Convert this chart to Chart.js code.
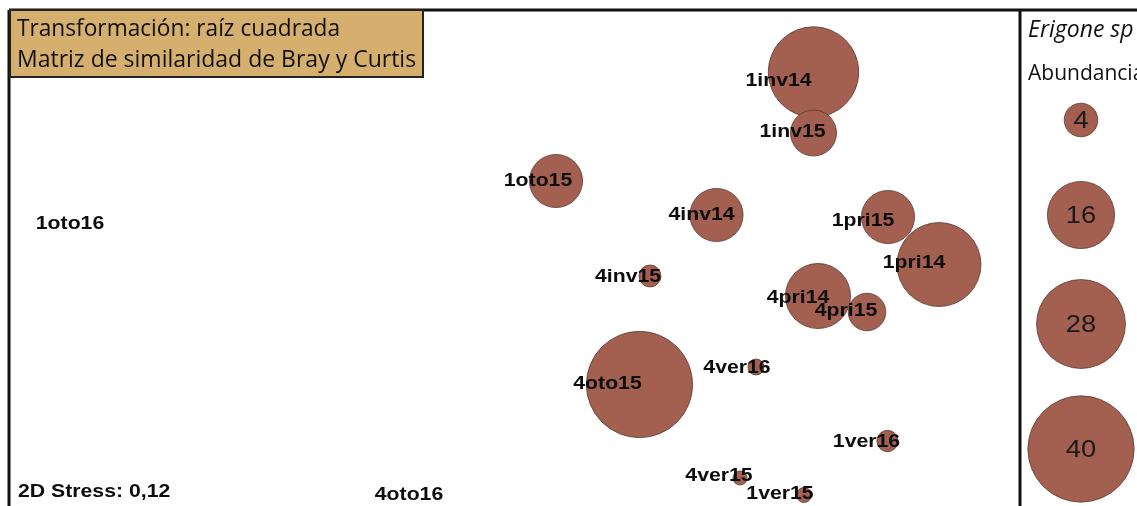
<!DOCTYPE html>
<html>
<head>
<meta charset="utf-8">
<script src="https://cdn.jsdelivr.net/npm/chart.js@4.4.1/dist/chart.umd.min.js"></script>
<style>
  html, body { margin: 0; padding: 0; background: #ffffff; overflow: hidden; }
  #wrap { width: 1137px; height: 506px; }
</style>
</head>
<body>
<div id="wrap"><canvas id="c" width="1137" height="506"></canvas></div>
<script>
// ---- data (nMDS coordinates and abundance of Erigone sp) ----
const samples   = ['1inv14','1inv15','1oto15','4inv14','1pri15','1pri14','4inv15','4pri14','4pri15','4oto15','4ver16','1ver16','4ver15','1ver15','1oto16','4oto16'];
const mdsX      = [1.194, 1.194, 0.164, 0.806, 1.492, 1.696, 0.540, 1.212, 1.408, 0.498, 0.964, 1.490, 0.900, 1.156, -1.780, -0.424];
const mdsY      = [0.744, 0.500, 0.308, 0.172, 0.164, -0.026, -0.072, -0.152, -0.216, -0.506, -0.436, -0.732, -0.880, -0.948, 0.140, -0.944];
const abundance = [29, 7.5, 10, 10, 10, 25, 1.7, 15, 5, 40, 0.9, 1.6, 0.7, 0.8, 0, 0];
const legendValues = [4, 16, 28, 40];
const titleLines = ['Transformación: raíz cuadrada', 'Matriz de similaridad de Bray y Curtis'];
const stressText = '2D Stress: 0,12';
const legendTitle = 'Erigone sp';
const legendSub = 'Abundancia';

// ---- styling ----
const K = 8.4; // bubble radius scale (px per sqrt(abundance))
const FILL = '#A35F4F';
const EDGE = '#5b3b33';
// label offsets (px) relative to bubble centre, for the label's centre
const labelDX = [-35, -21, -18, -15, -25, -25, -22, -20, -21, -32, -19, -21, -21, -24, 0, 0];
const labelDY = [9, -1, 0, 0, 4, -1, 1, 2, -1, 0, 1, 1, -2, -1, 1, 1];

const radiusOf = v => K * Math.sqrt(v);

const points = samples.map((s, i) => ({ x: mdsX[i], y: mdsY[i], r: radiusOf(abundance[i]) }));

function stretchedText(ctx, text, x, y, font, sx, align) {
  ctx.save();
  ctx.font = font;
  ctx.textAlign = align || 'center';
  ctx.textBaseline = 'middle';
  ctx.translate(x, y);
  ctx.scale(sx, 1);
  ctx.fillText(text, 0, 0);
  ctx.restore();
}

const decor = {
  id: 'decor',
  afterDatasetsDraw(chart) {
    const ctx = chart.ctx;
    const meta = chart.getDatasetMeta(0);
    ctx.fillStyle = '#0d0d0d';
    meta.data.forEach((el, i) => {
      stretchedText(ctx, samples[i], el.x + labelDX[i], el.y + labelDY[i], "bold 18px 'Liberation Sans', Arial, sans-serif", 1.18, 'center');
    });
  },
  afterDraw(chart) {
    const ctx = chart.ctx;
    const a = chart.chartArea;
    // stress text
    ctx.fillStyle = '#0d0d0d';
    stretchedText(ctx, stressText, 18, 492, "bold 18px 'Liberation Sans', Arial, sans-serif", 1.18, 'left');

    // frame lines
    ctx.save();
    ctx.strokeStyle = '#111';
    ctx.lineWidth = 3;
    ctx.beginPath();
    ctx.moveTo(a.left - 1, a.top); ctx.lineTo(chart.width, a.top);
    ctx.moveTo(a.left - 1, a.top); ctx.lineTo(a.left - 1, chart.height);
    ctx.moveTo(a.right, a.top); ctx.lineTo(a.right, chart.height);
    ctx.stroke();
    ctx.restore();

    // title box
    ctx.save();
    ctx.fillStyle = '#D5AF6D';
    ctx.fillRect(10, 10, 413, 67);
    ctx.strokeStyle = '#222';
    ctx.lineWidth = 2;
    ctx.strokeRect(10, 10, 413, 67);
    ctx.fillStyle = '#111';
    ctx.font = "23px 'Open Sans', sans-serif";
    ctx.textAlign = 'left';
    ctx.textBaseline = 'alphabetic';
    ctx.fillText(titleLines[0], 17, 36, 323);
    ctx.fillText(titleLines[1], 17, 67, 401);
    ctx.restore();

    // legend panel
    ctx.save();
    ctx.fillStyle = '#111';
    ctx.textAlign = 'left';
    ctx.textBaseline = 'alphabetic';
    ctx.font = "italic 23px 'Open Sans', sans-serif";
    ctx.fillText(legendTitle, 1028, 37);
    ctx.font = "21px 'Open Sans', sans-serif";
    ctx.fillText(legendSub, 1028, 80);
    const lx = 1081;
    const ly = [120, 215, 324, 449];
    legendValues.forEach((v, i) => {
      ctx.beginPath();
      ctx.arc(lx, ly[i], radiusOf(v), 0, Math.PI * 2);
      ctx.fillStyle = FILL;
      ctx.fill();
      ctx.lineWidth = 0.8;
      ctx.strokeStyle = EDGE;
      ctx.stroke();
      ctx.fillStyle = '#1a1a1a';
      stretchedText(ctx, String(v), lx, ly[i] + 1, "24px 'Liberation Sans', Arial, sans-serif", 1.14, 'center');
    });
    ctx.restore();
  }
};

new Chart(document.getElementById('c'), {
  type: 'bubble',
  data: {
    datasets: [{
      label: 'Erigone sp',
      data: points,
      backgroundColor: FILL,
      borderColor: EDGE,
      borderWidth: 0.8,
      hoverRadius: 0
    }]
  },
  options: {
    responsive: false,
    devicePixelRatio: 1,
    animation: false,
    events: [],
    layout: { autoPadding: false, padding: { left: 10, top: 10, right: 117, bottom: 0 } },
    plugins: { legend: { display: false }, tooltip: { enabled: false }, title: { display: false } },
    scales: {
      x: { type: 'linear', min: -2.02, max: 2.02, display: false },
      y: { type: 'linear', min: -0.992, max: 0.992, display: false }
    }
  },
  plugins: [decor]
});
</script>
</body>
</html>
